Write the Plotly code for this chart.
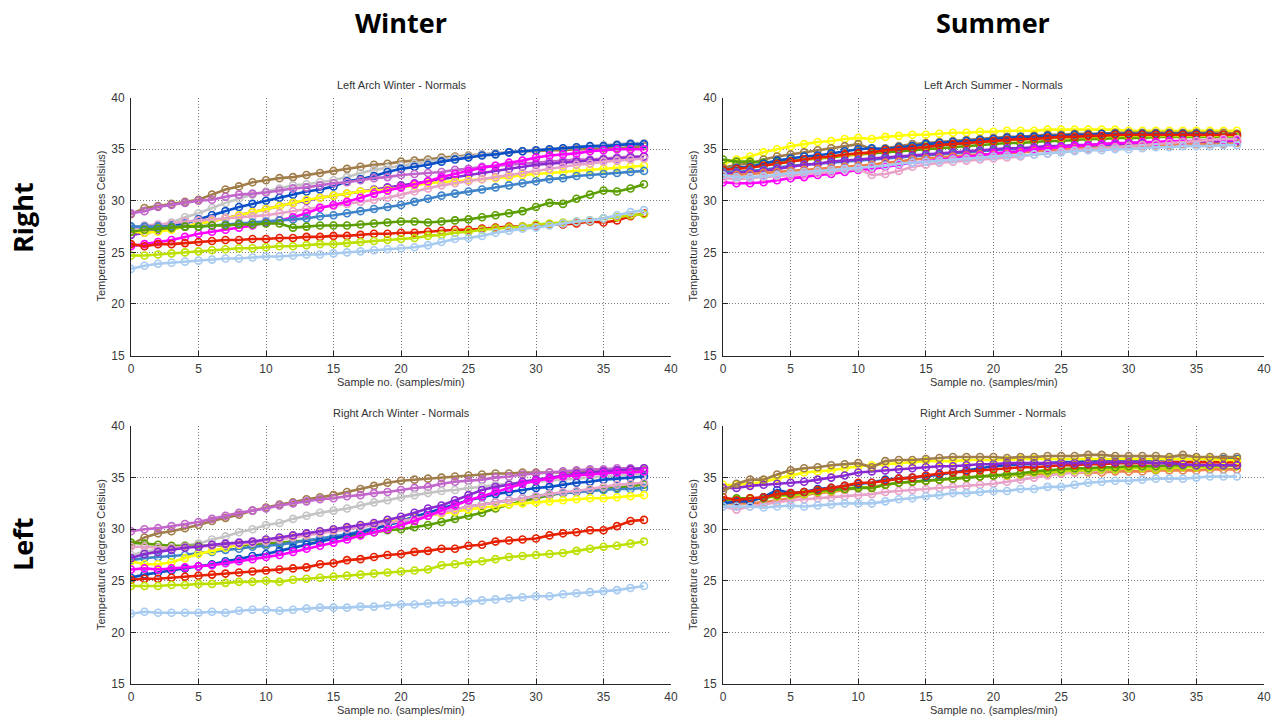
import plotly.graph_objects as go

# Sample index (samples/min), 0..38
samples = list(range(39))

# Line colours
C = {
    "brown": "#A07D4B", "gray": "#C4C4C4", "blue": "#0B4FC8", "orchid": "#C266CC",
    "purple": "#8A2BD2", "magenta": "#FF00FF", "yellow": "#FFFF00", "pink": "#E8A2C8",
    "steel": "#3F84C8", "green": "#5A9E00", "red": "#E62000", "ygreen": "#BEE000",
    "lblue": "#A6CAF0", "orange": "#F0804A",
}

# ---- Left Arch Winter ----
law_brown = [28.7, 29.3, 29.5, 29.7, 29.9, 30.1, 30.6, 31.1, 31.4, 31.8, 32.0, 32.2, 32.3, 32.5, 32.7, 32.9, 33.1, 33.3, 33.5, 33.6,
             33.8, 33.9, 34.0, 34.2, 34.3, 34.4, 34.5, 34.6, 34.7, 34.8, 34.8, 34.9, 34.9, 35.0, 35.0, 35.1, 35.1, 35.2, 35.3]
law_gray = [27.3, 27.5, 27.6, 27.9, 28.4, 28.8, 29.3, 29.8, 30.2, 30.6, 30.9, 31.2, 31.5, 31.6, 31.8, 32.0, 32.3, 32.7, 33.0, 33.2,
            33.4, 33.6, 33.8, 34.0, 34.2, 34.3, 34.5, 34.6, 34.7, 34.8, 34.9, 35.0, 35.1, 35.2, 35.3, 35.4, 35.5, 35.6, 35.6]
law_blue = [27.5, 27.4, 27.5, 27.6, 27.8, 28.2, 28.6, 29.0, 29.4, 29.7, 30.0, 30.3, 30.6, 30.9, 31.1, 31.4, 31.9, 32.1, 32.4, 32.8,
            33.1, 33.3, 33.5, 33.8, 34.0, 34.2, 34.4, 34.5, 34.7, 34.8, 34.9, 35.0, 35.1, 35.2, 35.3, 35.3, 35.4, 35.5, 35.5]
law_orchid = [28.8, 29.0, 29.4, 29.6, 29.8, 30.0, 30.1, 30.4, 30.6, 30.7, 30.8, 31.0, 31.2, 31.3, 31.5, 31.7, 31.8, 32.0, 32.2, 32.3,
              32.5, 32.6, 32.7, 32.8, 33.0, 33.1, 33.3, 33.4, 33.5, 33.6, 33.7, 33.8, 33.9, 34.0, 34.0, 34.1, 34.2, 34.3, 34.3]
law_purple = [26.7, 26.9, 27.1, 27.3, 27.5, 27.8, 28.0, 28.3, 28.6, 28.9, 29.2, 29.5, 29.8, 30.0, 30.3, 30.5, 30.7, 30.9, 31.1, 31.3,
              31.5, 31.7, 31.9, 32.1, 32.3, 32.5, 32.7, 32.9, 33.1, 33.3, 33.5, 33.6, 33.7, 33.8, 33.9, 34.0, 34.1, 34.2, 34.3]
law_magenta = [25.6, 25.8, 26.0, 26.2, 26.5, 26.8, 27.0, 27.2, 27.4, 27.6, 27.9, 28.1, 28.4, 28.8, 29.3, 29.6, 29.9, 30.3, 30.7, 31.0,
               31.3, 31.6, 31.9, 32.3, 32.6, 32.9, 33.2, 33.4, 33.7, 33.9, 34.2, 34.4, 34.5, 34.6, 34.8, 34.9, 35.0, 35.0, 35.0]
law_yellow = [27.0, 26.9, 27.0, 27.2, 27.5, 27.8, 28.0, 28.3, 28.6, 28.9, 29.2, 29.5, 29.8, 30.1, 30.3, 30.5, 30.7, 30.9, 31.0, 31.1,
              31.3, 31.5, 31.7, 31.8, 31.9, 32.0, 32.1, 32.2, 32.3, 32.5, 32.6, 32.7, 32.8, 32.9, 33.0, 33.1, 33.2, 33.3, 33.4]
law_pink = [27.2, 27.6, 27.7, 27.8, 28.0, 28.1, 28.2, 28.3, 28.4, 28.5, 28.6, 28.8, 29.0, 29.2, 29.4, 29.5, 29.7, 29.9, 30.1, 30.3,
            30.6, 30.9, 31.2, 31.5, 31.7, 31.9, 32.1, 32.3, 32.5, 32.7, 32.9, 33.1, 33.3, 33.5, 33.6, 33.8, 33.9, 34.0, 34.1]
law_steel = [27.5, 27.5, 27.5, 27.5, 27.5, 27.5, 27.6, 27.7, 27.8, 27.9, 28.0, 28.1, 28.2, 28.3, 28.5, 28.6, 28.8, 29.0, 29.2, 29.4,
             29.6, 29.9, 30.2, 30.5, 30.7, 30.9, 31.1, 31.3, 31.5, 31.7, 31.9, 32.1, 32.2, 32.4, 32.5, 32.6, 32.7, 32.8, 32.9]
law_green = [27.0, 27.2, 27.3, 27.4, 27.5, 27.5, 27.6, 27.6, 27.7, 27.7, 27.8, 27.8, 27.4, 27.5, 27.6, 27.6, 27.6, 27.7, 27.8, 27.9,
             28.0, 28.0, 27.9, 28.0, 28.1, 28.2, 28.4, 28.6, 28.8, 29.0, 29.4, 29.8, 29.7, 30.2, 30.6, 31.0, 30.9, 31.2, 31.6]
law_red = [25.8, 25.6, 25.8, 25.8, 25.9, 26.0, 26.1, 26.2, 26.2, 26.3, 26.3, 26.4, 26.4, 26.5, 26.5, 26.6, 26.6, 26.7, 26.8, 26.8,
           26.9, 26.9, 27.0, 27.1, 27.2, 27.2, 27.3, 27.4, 27.5, 27.5, 27.6, 27.7, 27.7, 27.8, 28.0, 27.9, 28.1, 28.5, 28.8]
law_ygreen = [24.7, 24.7, 24.8, 24.9, 25.0, 25.1, 25.2, 25.3, 25.4, 25.4, 25.5, 25.6, 25.6, 25.7, 25.8, 25.8, 25.9, 26.0, 26.1, 26.2,
              26.3, 26.4, 26.6, 26.7, 26.9, 27.0, 27.2, 27.3, 27.4, 27.5, 27.7, 27.8, 27.9, 28.0, 28.1, 28.3, 28.4, 28.6, 28.7]
law_lblue = [23.4, 23.7, 23.9, 24.0, 24.1, 24.2, 24.3, 24.4, 24.4, 24.5, 24.6, 24.6, 24.7, 24.8, 24.8, 24.9, 25.0, 25.1, 25.2, 25.3,
             25.4, 25.5, 25.7, 26.0, 26.3, 26.4, 26.6, 26.9, 27.1, 27.3, 27.4, 27.6, 27.8, 28.0, 28.1, 28.3, 28.6, 28.9, 29.1]

# ---- Left Arch Summer ----
las_yellow = [33.6, 34.0, 34.3, 34.7, 35.0, 35.3, 35.5, 35.7, 35.8, 36.0, 36.1, 36.0, 36.2, 36.3, 36.4, 36.4, 36.5, 36.6, 36.6, 36.7,
              36.7, 36.8, 36.8, 36.8, 36.9, 36.9, 36.9, 36.9, 36.9, 36.9, 36.8, 36.8, 36.8, 36.8, 36.8, 36.8, 36.8, 36.8, 36.8]
las_brown = [33.2, 33.5, 33.6, 34.0, 34.3, 34.5, 34.7, 34.9, 35.1, 35.3, 35.5, 35.0, 35.1, 35.3, 35.5, 35.6, 35.7, 35.8, 35.9, 36.0,
             36.1, 36.2, 36.2, 36.3, 36.4, 36.4, 36.5, 36.5, 36.5, 36.6, 36.6, 36.6, 36.6, 36.6, 36.6, 36.6, 36.6, 36.6, 36.5]
las_green = [34.0, 33.8, 33.8, 33.7, 33.8, 33.9, 34.0, 34.1, 34.2, 34.4, 34.5, 34.6, 34.7, 34.8, 34.9, 35.0, 35.1, 35.2, 35.3, 35.4,
             35.5, 35.6, 35.6, 35.7, 35.8, 35.8, 35.9, 36.0, 36.0, 36.1, 36.1, 36.1, 36.2, 36.2, 36.2, 36.2, 36.2, 36.2, 36.2]
las_ygreen = [33.0, 33.2, 33.3, 33.5, 33.6, 33.8, 34.0, 34.1, 34.3, 34.4, 34.5, 34.7, 34.9, 35.1, 35.2, 35.3, 35.4, 35.5, 35.6, 35.7,
              35.8, 35.9, 35.9, 36.0, 36.1, 36.1, 36.2, 36.2, 36.2, 36.3, 36.3, 36.3, 36.3, 36.3, 36.3, 36.3, 36.3, 36.3, 36.3]
las_blue = [33.0, 33.2, 33.3, 33.6, 33.9, 34.1, 34.3, 34.4, 34.6, 34.8, 35.0, 35.1, 35.0, 35.2, 35.3, 35.5, 35.6, 35.7, 35.8, 35.9,
            36.0, 36.1, 36.2, 36.2, 36.3, 36.3, 36.4, 36.4, 36.5, 36.5, 36.5, 36.5, 36.5, 36.5, 36.5, 36.5, 36.5, 36.4, 36.4]
las_red = [33.0, 33.1, 33.2, 33.4, 33.6, 33.8, 34.0, 34.2, 34.3, 34.5, 34.6, 34.7, 34.9, 35.0, 35.1, 35.2, 35.4, 35.5, 35.6, 35.7,
           35.8, 35.9, 36.0, 36.0, 36.1, 36.2, 36.2, 36.3, 36.3, 36.4, 36.4, 36.4, 36.4, 36.4, 36.4, 36.4, 36.4, 36.4, 36.4]
las_steel = [32.8, 32.8, 32.9, 33.0, 33.2, 33.4, 33.5, 33.6, 33.7, 33.8, 33.9, 34.0, 34.1, 34.2, 34.3, 34.4, 34.5, 34.6, 34.7, 34.8,
             34.9, 35.0, 35.0, 35.1, 35.2, 35.2, 35.3, 35.3, 35.4, 35.4, 35.5, 35.5, 35.5, 35.6, 35.6, 35.6, 35.6, 35.7, 35.7]
las_purple = [32.6, 32.7, 32.8, 32.9, 33.1, 33.3, 33.5, 33.6, 33.8, 33.9, 34.0, 34.1, 34.2, 34.3, 34.4, 34.5, 34.6, 34.7, 34.8, 34.9,
              35.0, 35.1, 35.1, 35.2, 35.3, 35.3, 35.4, 35.4, 35.5, 35.5, 35.6, 35.6, 35.6, 35.7, 35.7, 35.7, 35.7, 35.8, 35.8]
las_orange = [32.4, 32.5, 32.6, 32.7, 32.8, 32.9, 33.0, 33.1, 33.2, 33.3, 33.4, 33.5, 33.7, 33.8, 34.0, 34.1, 34.2, 34.3, 34.4, 34.5,
              34.5, 34.6, 34.7, 34.8, 34.9, 35.0, 35.1, 35.1, 35.2, 35.2, 35.3, 35.3, 35.4, 35.4, 35.5, 35.5, 35.5, 35.5, 35.6]
las_magenta = [31.8, 31.7, 31.7, 31.8, 32.0, 32.2, 32.3, 32.5, 32.6, 32.8, 33.0, 33.1, 33.3, 33.5, 33.7, 33.8, 34.0, 34.1, 34.3, 34.4,
               34.6, 34.7, 34.8, 35.0, 35.1, 35.2, 35.3, 35.4, 35.5, 35.6, 35.6, 35.7, 35.7, 35.8, 35.8, 35.8, 35.9, 35.9, 35.9]
las_pink = [32.2, 32.1, 32.2, 32.3, 32.4, 32.5, 32.6, 32.7, 32.8, 33.0, 33.1, 32.5, 32.6, 32.9, 33.3, 33.5, 33.7, 33.8, 33.9, 34.0,
            34.1, 34.2, 34.3, 34.5, 34.6, 34.8, 34.9, 35.0, 35.1, 35.2, 35.3, 35.4, 35.5, 35.6, 35.7, 35.8, 35.9, 36.0, 36.0]
las_lblue = [32.5, 32.3, 32.3, 32.4, 32.5, 32.7, 32.8, 32.9, 33.0, 33.1, 33.2, 33.3, 33.4, 33.6, 33.7, 33.8, 33.9, 34.0, 34.1, 34.2,
             34.3, 34.4, 34.4, 34.5, 34.6, 34.7, 34.8, 34.9, 34.9, 35.0, 35.0, 35.1, 35.2, 35.2, 35.3, 35.3, 35.3, 35.4, 35.4]

# ---- Right Arch Winter ----
raw_brown = [28.5, 29.2, 29.6, 29.8, 30.1, 30.4, 30.8, 31.1, 31.4, 31.8, 32.1, 32.4, 32.6, 32.9, 33.1, 33.3, 33.6, 33.9, 34.2, 34.5,
             34.7, 34.8, 34.9, 35.0, 35.1, 35.2, 35.3, 35.4, 35.4, 35.5, 35.5, 35.5, 35.5, 35.6, 35.6, 35.6, 35.7, 35.7, 35.7]
raw_orchid = [29.8, 30.0, 30.1, 30.3, 30.5, 30.7, 31.0, 31.3, 31.6, 31.8, 32.0, 32.3, 32.5, 32.7, 32.9, 33.0, 33.2, 33.3, 33.5, 33.6,
              33.8, 34.0, 34.1, 34.4, 34.6, 34.7, 34.8, 35.0, 35.1, 35.3, 35.4, 35.5, 35.6, 35.7, 35.8, 35.8, 35.9, 35.9, 35.9]
raw_gray = [27.5, 27.8, 28.0, 28.2, 28.4, 28.6, 29.0, 29.3, 29.7, 30.0, 30.4, 30.6, 31.0, 31.3, 31.6, 31.8, 32.0, 32.3, 32.6, 32.8,
            33.1, 33.3, 33.5, 33.7, 33.8, 34.0, 34.1, 34.3, 34.4, 34.5, 34.6, 34.7, 34.8, 34.9, 35.0, 35.1, 35.2, 35.3, 35.4]
raw_purple = [27.2, 27.6, 27.8, 28.0, 28.2, 28.3, 28.5, 28.6, 28.7, 28.8, 29.0, 29.2, 29.4, 29.6, 29.8, 30.0, 30.2, 30.4, 30.6, 30.9,
              31.2, 31.6, 32.0, 32.3, 32.8, 33.3, 33.8, 34.1, 34.3, 34.6, 34.8, 35.0, 35.2, 35.4, 35.5, 35.6, 35.7, 35.8, 35.9]
raw_magenta = [26.1, 26.2, 26.1, 26.2, 26.3, 26.4, 26.5, 26.7, 26.9, 27.1, 27.3, 27.5, 27.8, 28.1, 28.4, 28.7, 29.0, 29.4, 29.7, 30.0,
               30.4, 30.8, 31.3, 31.8, 32.3, 32.8, 33.2, 33.6, 34.0, 34.4, 34.7, 34.9, 35.1, 35.2, 35.3, 35.4, 35.5, 35.5, 35.6]
raw_blue = [25.3, 25.6, 25.8, 26.0, 26.2, 26.4, 26.6, 26.9, 27.1, 27.4, 27.6, 27.9, 28.2, 28.5, 28.8, 29.1, 29.4, 29.7, 30.0, 30.4,
            30.8, 31.2, 31.6, 32.0, 32.4, 32.8, 33.1, 33.4, 33.6, 33.8, 34.0, 34.1, 34.3, 34.5, 34.6, 34.8, 34.9, 35.0, 35.1]
raw_green = [28.7, 28.6, 28.5, 28.4, 28.4, 28.4, 28.4, 28.4, 28.4, 28.5, 28.6, 28.7, 28.8, 28.9, 29.0, 29.1, 29.3, 29.5, 29.7, 29.9,
             30.0, 30.2, 30.4, 30.7, 31.0, 31.3, 31.6, 32.0, 32.4, 32.7, 33.0, 33.3, 33.5, 33.6, 33.8, 33.9, 34.0, 34.2, 34.3]
raw_steel = [27.0, 27.2, 27.3, 27.4, 27.5, 27.7, 27.8, 28.0, 28.1, 28.3, 28.4, 28.5, 28.7, 28.9, 29.1, 29.3, 29.5, 29.8, 30.1, 30.4,
             30.7, 31.0, 31.3, 31.6, 31.9, 32.2, 32.4, 32.6, 32.8, 33.0, 33.2, 33.4, 33.5, 33.6, 33.7, 33.8, 33.9, 33.9, 34.0]
raw_yellow = [26.9, 26.6, 26.6, 26.8, 27.2, 27.6, 27.9, 28.2, 28.5, 28.7, 28.9, 29.1, 29.3, 29.5, 29.7, 29.9, 30.1, 30.3, 30.5, 30.7,
              30.9, 31.1, 31.3, 31.5, 31.7, 31.9, 32.1, 32.2, 32.4, 32.5, 32.6, 32.7, 32.8, 32.9, 33.0, 33.0, 33.1, 33.2, 33.3]
raw_pink = [28.3, 28.3, 28.2, 28.2, 28.3, 28.3, 28.4, 28.5, 28.6, 28.7, 28.8, 29.0, 29.2, 29.4, 29.6, 29.8, 30.0, 30.2, 30.4, 30.6,
            30.8, 31.0, 31.3, 31.6, 31.9, 32.2, 32.4, 32.6, 32.8, 33.0, 33.2, 33.4, 33.6, 33.7, 33.9, 34.1, 34.3, 34.4, 34.5]
raw_red = [25.1, 25.2, 25.2, 25.3, 25.4, 25.5, 25.6, 25.7, 25.8, 25.9, 26.0, 26.1, 26.2, 26.3, 26.6, 26.7, 27.0, 27.1, 27.3, 27.5,
           27.6, 27.8, 27.9, 28.1, 28.1, 28.4, 28.5, 28.8, 28.9, 29.0, 29.1, 29.4, 29.6, 29.7, 29.9, 29.9, 30.3, 30.8, 30.9]
raw_ygreen = [24.5, 24.5, 24.5, 24.6, 24.6, 24.7, 24.7, 24.8, 24.9, 24.9, 25.0, 24.9, 25.1, 25.2, 25.3, 25.4, 25.5, 25.6, 25.7, 25.8,
              25.9, 26.0, 26.1, 26.5, 26.6, 26.8, 26.9, 27.1, 27.3, 27.4, 27.5, 27.6, 27.7, 27.9, 28.1, 28.3, 28.4, 28.6, 28.8]
raw_lblue = [21.8, 22.0, 21.9, 21.9, 21.9, 21.9, 22.0, 21.9, 22.1, 22.2, 22.2, 22.1, 22.2, 22.3, 22.4, 22.4, 22.4, 22.5, 22.5, 22.6,
             22.7, 22.7, 22.8, 22.9, 22.9, 23.0, 23.1, 23.2, 23.3, 23.4, 23.5, 23.5, 23.7, 23.8, 23.9, 24.0, 24.1, 24.3, 24.5]

# ---- Right Arch Summer ----
ras_brown = [33.7, 34.4, 34.8, 34.8, 35.3, 35.7, 35.9, 36.0, 36.2, 36.3, 36.4, 36.0, 36.6, 36.7, 36.7, 36.8, 36.9, 37.0, 37.0, 37.0,
             37.0, 36.9, 37.0, 37.0, 37.1, 37.1, 37.1, 37.2, 37.2, 37.1, 37.1, 37.1, 37.1, 37.0, 37.2, 37.0, 37.0, 37.0, 37.0]
ras_yellow = [34.3, 34.3, 34.4, 34.6, 34.9, 35.2, 35.5, 35.6, 35.7, 35.9, 36.1, 36.2, 36.3, 36.4, 36.5, 36.6, 36.6, 36.6, 36.7, 36.7,
              36.7, 36.7, 36.8, 36.8, 36.8, 36.8, 36.8, 36.8, 36.8, 36.8, 36.8, 36.8, 36.8, 36.8, 36.8, 36.8, 36.8, 36.7, 36.7]
ras_purple = [34.0, 34.0, 34.2, 34.3, 34.4, 34.5, 34.6, 34.8, 35.0, 35.2, 35.5, 35.6, 35.7, 35.8, 35.9, 36.0, 36.1, 36.1, 36.2, 36.3,
              36.3, 36.4, 36.4, 36.4, 36.4, 36.4, 36.4, 36.4, 36.5, 36.5, 36.5, 36.5, 36.4, 36.4, 36.3, 36.2, 36.2, 36.2, 36.2]
ras_blue = [32.5, 32.7, 32.7, 33.1, 33.8, 33.5, 33.6, 33.9, 34.0, 34.2, 34.4, 34.5, 34.8, 34.9, 35.0, 35.1, 35.3, 35.5, 35.7, 35.9,
            36.1, 36.2, 36.3, 36.3, 36.4, 36.5, 36.5, 36.6, 36.6, 36.7, 36.7, 36.7, 36.7, 36.8, 36.8, 36.8, 36.8, 36.8, 36.8]
ras_red = [33.1, 32.8, 33.0, 33.1, 33.4, 33.5, 33.6, 33.8, 34.0, 34.2, 34.5, 34.5, 34.7, 34.9, 35.0, 35.2, 35.4, 35.5, 35.6, 35.7,
           35.8, 35.9, 36.0, 36.0, 36.1, 36.2, 36.2, 36.3, 36.3, 36.4, 36.4, 36.4, 36.4, 36.5, 36.5, 36.5, 36.5, 36.5, 36.5]
ras_green = [32.8, 33.0, 33.0, 33.0, 33.3, 33.4, 33.6, 33.7, 33.8, 33.9, 34.0, 34.0, 34.3, 34.5, 34.6, 34.7, 34.8, 34.9, 35.0, 35.1,
             35.2, 35.3, 35.4, 35.6, 35.7, 35.8, 35.9, 35.9, 36.0, 36.0, 36.1, 36.1, 36.1, 36.2, 36.2, 36.2, 36.2, 36.2, 36.2]
ras_ygreen = [32.7, 32.9, 32.9, 33.0, 33.2, 33.3, 33.4, 33.6, 33.7, 33.9, 34.1, 34.0, 34.3, 34.5, 34.6, 34.7, 34.8, 34.9, 35.0, 35.1,
              35.2, 35.2, 35.3, 35.5, 35.5, 35.6, 35.7, 35.7, 35.8, 35.8, 35.9, 35.9, 35.8, 35.9, 36.0, 36.0, 36.0, 36.1, 36.1]
ras_orange = [32.5, 32.5, 32.5, 32.6, 32.8, 33.0, 33.3, 33.5, 33.6, 33.8, 34.0, 34.1, 34.3, 34.5, 34.6, 34.7, 34.8, 34.9, 35.0, 35.1,
              35.2, 35.2, 35.3, 35.3, 35.4, 35.4, 35.5, 35.5, 35.5, 35.6, 35.6, 35.6, 35.7, 35.7, 35.7, 35.7, 35.8, 35.8, 35.8]
ras_pink = [32.2, 31.9, 32.2, 32.4, 32.6, 32.8, 32.9, 33.0, 33.1, 33.2, 33.3, 33.4, 33.6, 33.7, 33.8, 33.9, 34.0, 34.1, 34.2, 34.3,
            34.4, 34.6, 34.8, 35.0, 35.2, 35.4, 35.5, 35.6, 35.7, 35.8, 35.9, 36.0, 36.0, 36.1, 36.2, 36.2, 36.3, 36.3, 36.3]
ras_lblue = [32.2, 32.2, 32.2, 32.1, 32.2, 32.3, 32.2, 32.3, 32.4, 32.5, 32.5, 32.5, 32.7, 32.9, 33.0, 33.2, 33.3, 33.5, 33.5, 33.6,
             33.7, 33.7, 33.9, 33.9, 34.1, 34.1, 34.3, 34.5, 34.6, 34.7, 34.7, 34.8, 34.9, 34.9, 34.9, 35.0, 35.1, 35.1, 35.1]

panels = [
    ("Left Arch Winter - Normals", "x", "y", [
        ("brown", law_brown), ("gray", law_gray), ("blue", law_blue), ("orchid", law_orchid),
        ("purple", law_purple), ("yellow", law_yellow), ("pink", law_pink), ("magenta", law_magenta),
        ("steel", law_steel), ("green", law_green), ("red", law_red), ("ygreen", law_ygreen), ("lblue", law_lblue)]),
    ("Left Arch Summer - Normals", "x2", "y2", [
        ("yellow", las_yellow), ("brown", las_brown), ("green", las_green), ("ygreen", las_ygreen),
        ("blue", las_blue), ("red", las_red), ("steel", las_steel), ("purple", las_purple),
        ("orange", las_orange), ("magenta", las_magenta), ("pink", las_pink), ("lblue", las_lblue)]),
    ("Right Arch Winter - Normals", "x3", "y3", [
        ("brown", raw_brown), ("orchid", raw_orchid), ("gray", raw_gray), ("green", raw_green),
        ("steel", raw_steel), ("yellow", raw_yellow), ("blue", raw_blue), ("pink", raw_pink),
        ("purple", raw_purple), ("magenta", raw_magenta), ("red", raw_red), ("ygreen", raw_ygreen), ("lblue", raw_lblue)]),
    ("Right Arch Summer - Normals", "x4", "y4", [
        ("orange", ras_orange), ("pink", ras_pink), ("ygreen", ras_ygreen), ("green", ras_green),
        ("blue", ras_blue), ("red", ras_red), ("yellow", ras_yellow), ("purple", ras_purple),
        ("brown", ras_brown), ("lblue", ras_lblue)]),
]

W, H = 1276, 719
# plot areas in pixels: (left, right, top, bottom)
boxes = [(131, 671, 97.7, 355.5), (723, 1264, 97.7, 355.5),
         (131, 671, 426, 684), (723, 1264, 426, 684)]

fig = go.Figure()
for (title, xa, ya, series) in panels:
    for name, vals in series:
        fig.add_trace(go.Scatter(
            x=samples, y=vals, xaxis=xa, yaxis=ya, mode="lines+markers",
            line=dict(color=C[name], width=2.6),
            marker=dict(symbol="circle-open", size=7, color=C[name], line=dict(width=1.6)),
            showlegend=False, hoverinfo="skip"))

axis_font = dict(family="Liberation Sans, Arial", size=12, color="#3a3a3a")
small = dict(family="Liberation Sans, Arial", size=11, color="#333333")
layout = dict(width=W, height=H, margin=dict(l=0, r=0, t=0, b=0, autoexpand=False),
              paper_bgcolor="white", plot_bgcolor="white", showlegend=False)


def note(text, px, py, font, angle=0):
    return dict(text=text, x=px / W, y=1 - py / H, xref="paper", yref="paper", showarrow=False,
                font=font, textangle=angle, xanchor="center", yanchor="middle")


annotations = []
for i, (l, r, t, b) in enumerate(boxes):
    sfx = "" if i == 0 else str(i + 1)
    common = dict(showline=True, linecolor="#262626", linewidth=1, mirror=False,
                  showgrid=True, gridcolor="#7a7a7a", griddash="1px,2px", gridwidth=1,
                  ticks="inside", ticklen=5, tickcolor="#262626", tickfont=axis_font,
                  zeroline=False, fixedrange=True, automargin=False)
    layout["xaxis" + sfx] = dict(domain=[l / W, r / W], range=[0, 40], tickvals=[0, 5, 10, 15, 20, 25, 30, 35, 40],
                                 anchor="y" + sfx, ticklabelstandoff=2, **common)
    layout["yaxis" + sfx] = dict(domain=[1 - b / H, 1 - t / H], range=[15, 40], tickvals=[15, 20, 25, 30, 35, 40],
                                 anchor="x" + sfx, ticklabelstandoff=3, **common)
    annotations.append(note(panels[i][0], (l + r) / 2, t - 13, small))
    annotations.append(note("Sample no. (samples/min)", (l + r) / 2, b + 26, small))
    annotations.append(note("Temperature (degrees Celsius)", l - 30, (t + b) / 2, small, -90))

big = dict(family="Open Sans, Noto Sans, sans-serif", size=27, color="#000000", weight=700)
annotations += [
    note("Winter", 401, 22, big),
    note("Summer", 993, 22, big),
    note("Right", 22, 218, big, -90),
    note("Left", 22, 545, big, -90),
]
layout["annotations"] = annotations
fig.update_layout(**layout)
fig.write_html("out.html")
